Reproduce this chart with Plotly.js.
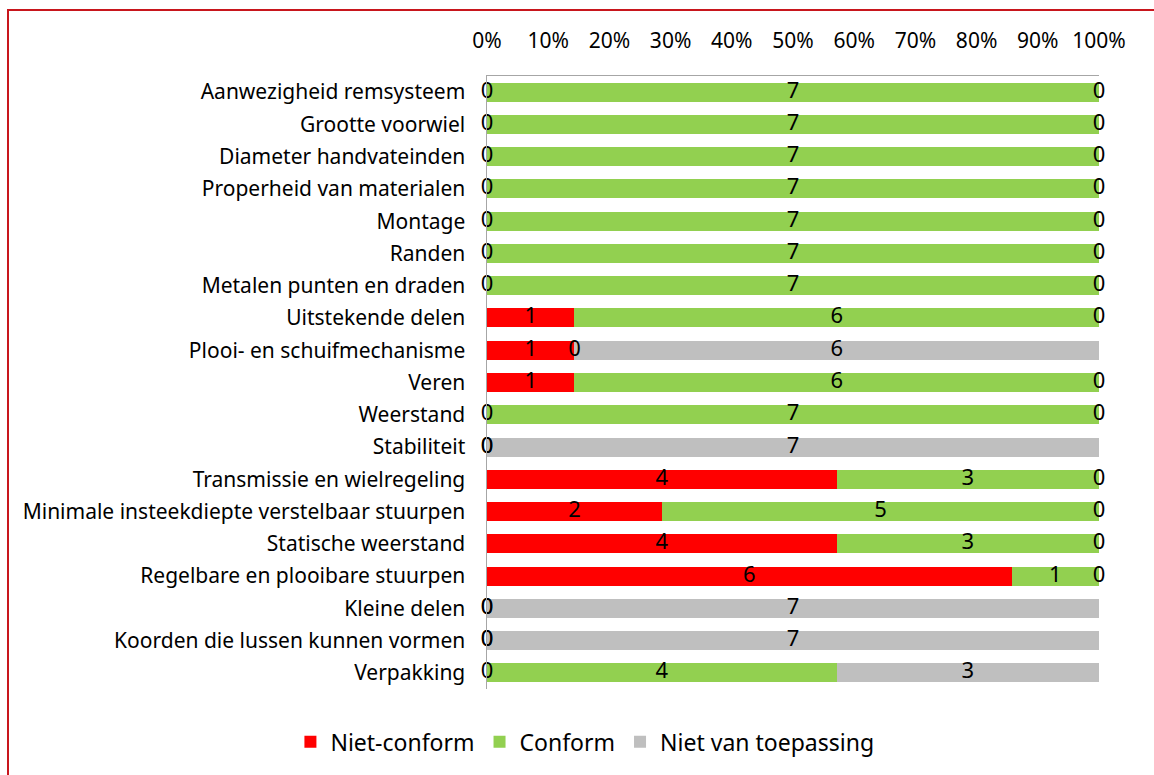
<!DOCTYPE html>
<html>
<head>
<meta charset="utf-8">
<script src="https://cdn.plot.ly/plotly-3.0.1.min.js"></script>
<style>
  html, body { margin: 0; padding: 0; background: #fff; overflow: hidden; }
  #chart { position: absolute; left: 0; top: 0; width: 1154px; height: 775px; }
  #frame { position: absolute; left: 7px; top: 9px; width: 1200px; height: 800px;
           border: 2px solid #c8161d; pointer-events: none; }
</style>
</head>
<body>
<div id="chart"></div>
<div id="frame"></div>
<script>
const categories = [
  "Aanwezigheid remsysteem",
  "Grootte voorwiel",
  "Diameter handvateinden",
  "Properheid van materialen",
  "Montage",
  "Randen",
  "Metalen punten en draden",
  "Uitstekende delen",
  "Plooi- en schuifmechanisme",
  "Veren",
  "Weerstand",
  "Stabiliteit",
  "Transmissie en wielregeling",
  "Minimale insteekdiepte verstelbaar stuurpen",
  "Statische weerstand",
  "Regelbare en plooibare stuurpen",
  "Kleine delen",
  "Koorden die lussen kunnen vormen",
  "Verpakking"
];
const nietConform     = [0,0,0,0,0,0,0,1,1,1,0,0,4,2,4,6,0,0,0];
const conform         = [7,7,7,7,7,7,7,6,0,6,7,0,3,5,3,1,0,0,4];
const nietToepassing  = [0,0,0,0,0,0,0,0,6,0,0,7,0,0,0,0,7,7,3];
const seriesNames  = ["Niet-conform", "Conform", "Niet van toepassing"];
const seriesColors = ["#ff0000", "#92d050", "#bfbfbf"];
const tickVals   = [0,10,20,30,40,50,60,70,80,90,100];
const tickLabels = ["0%","10%","20%","30%","40%","50%","60%","70%","80%","90%","100%"];
const titleText = "Resultaten per eigenschap";

const FONT = "Noto Sans, sans-serif";
const allSeries = [nietConform, conform, nietToepassing];

const traces = allSeries.map((vals, i) => ({
  type: "bar",
  orientation: "h",
  name: seriesNames[i],
  y: categories,
  x: vals,
  marker: { color: seriesColors[i], line: { width: 0 } },
  hoverinfo: "skip"
}));

// data labels at the middle of each segment (percent-normalised like the bars)
const lx = [], ly = [], lt = [];
categories.forEach((c, r) => {
  const total = allSeries.reduce((s, a) => s + a[r], 0);
  let cum = 0;
  allSeries.forEach(a => {
    const v = a[r];
    lx.push((cum + v / 2) / total * 100);
    ly.push(c);
    lt.push(String(v));
    cum += v;
  });
});
traces.push({
  type: "scatter",
  mode: "text",
  x: lx, y: ly, text: lt,
  textposition: "middle center",
  textfont: { family: FONT, size: 22, color: "#000" },
  showlegend: false,
  hoverinfo: "skip",
  cliponaxis: false
});

const layout = {
  width: 1154, height: 775,
  margin: { l: 487, r: 55, t: 76, b: 86, pad: 0 },
  paper_bgcolor: "#fff", plot_bgcolor: "#fff",
  barmode: "stack",
  barnorm: "percent",
  bargap: 0.41,
  font: { family: FONT, size: 21, color: "#000" },
  showlegend: true,
  legend: {
    orientation: "h", x: 0.16, xanchor: "center", y: -0.086, yanchor: "middle",
    font: { family: FONT, size: 23, color: "#000" },
    traceorder: "normal", itemclick: false
  },
  xaxis: {
    side: "top", range: [0, 100], tickvals: tickVals, ticktext: tickLabels,
    showgrid: false, zeroline: false, showline: true, linecolor: "#a6a6a6", linewidth: 1.5,
    ticks: "", ticklabelstandoff: 18, fixedrange: true,
    tickfont: { family: FONT, size: 21, color: "#000" }
  },
  yaxis: {
    type: "category", range: [categories.length - 0.5, -0.5],
    showgrid: false, zeroline: false, showline: true, linecolor: "#a6a6a6", linewidth: 1.5,
    ticks: "", ticklabelstandoff: 16, fixedrange: true,
    tickfont: { family: FONT, size: 21, color: "#000" }
  },
  annotations: [{
    text: "<b>" + titleText + "</b>",
    xref: "paper", yref: "paper", x: 0.355, y: 1.119,
    xanchor: "center", yanchor: "bottom", showarrow: false,
    font: { family: FONT, size: 18, color: "#e0401a" }
  }]
};

Plotly.newPlot("chart", traces, layout, { displayModeBar: false, staticPlot: true });
</script>
</body>
</html>
